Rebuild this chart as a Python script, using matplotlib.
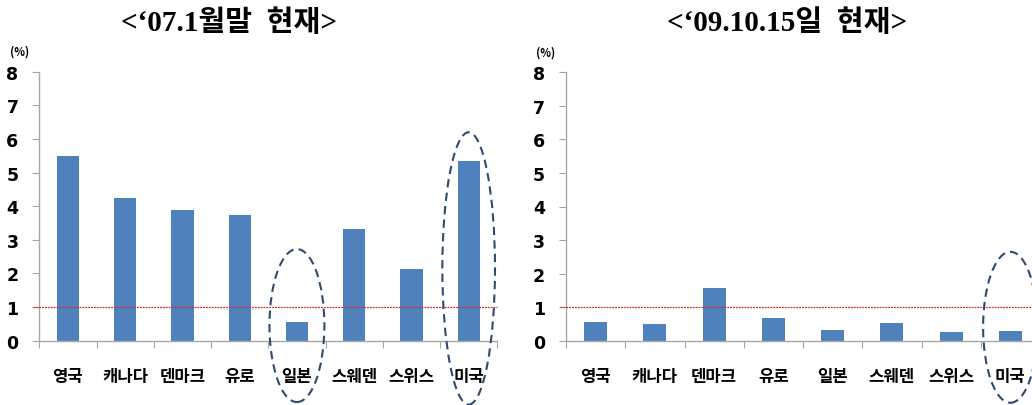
import matplotlib
matplotlib.use("Agg")
import matplotlib.pyplot as plt
from matplotlib.patches import Ellipse
import numpy as np

plt.rcParams['font.family'] = ['Noto Sans CJK KR', 'DejaVu Sans']

categories = ['영국', '캐나다', '덴마크', '유로', '일본', '스웨덴', '스위스', '미국']
values_2007 = [5.48, 4.25, 3.90, 3.74, 0.56, 3.33, 2.13, 5.35]
values_2009 = [0.56, 0.50, 1.56, 0.68, 0.33, 0.54, 0.26, 0.28]
titles = ["<\u201807.1월말  현재>", "<\u201809.10.15일  현재>"]
yticks = [0, 1, 2, 3, 4, 5, 6, 7, 8]
threshold = 1.0
# highlighted categories per panel
highlight_2007 = ['일본', '미국']
highlight_2009 = ['미국']

W, H = 1032, 406
fig = plt.figure(figsize=(W / 100, H / 100), dpi=100)

BAR = '#4F81BD'
AXC = '#A6A6A6'
ELC = '#2E4A72'
RED = '#D8282E'


def px_axes(x0, y_top, x1, y_bot):
    return fig.add_axes([x0 / W, 1 - y_bot / H, (x1 - x0) / W, (y_bot - y_top) / H])


def draw_panel(ax, vals, highlights, ell_specs):
    n = len(categories)
    x = np.arange(n)
    ax.bar(x, vals, width=0.39, color=BAR, zorder=2)
    ax.set_xlim(-0.5, n - 0.5)
    ax.set_ylim(0, 8)
    ax.set_yticks(yticks)
    ax.set_yticklabels([str(v) for v in yticks], fontsize=12.5, fontweight='bold',
                       family=['DejaVu Sans'])
    ax.set_xticks(np.arange(n + 1) - 0.5, minor=False)
    ax.set_xticklabels([])
    ax.set_xticks(x, minor=True)
    ax.set_xticklabels(categories, minor=True, fontsize=12, fontweight='bold')
    ax.tick_params(axis='x', which='major', length=5, color=AXC, direction='out')
    ax.tick_params(axis='x', which='minor', length=0, pad=19)
    ax.tick_params(axis='y', length=5, color=AXC, pad=10)
    for s in ['top', 'right']:
        ax.spines[s].set_visible(False)
    for s in ['left', 'bottom']:
        ax.spines[s].set_color(AXC)
        ax.spines[s].set_linewidth(1.0)
    ax.axhline(threshold, xmin=-0.013, xmax=1.0, color=RED, lw=0.9,
               ls=(0, (1.5, 0.8)), zorder=3, clip_on=False)
    for cat, (cy, h, w) in zip(highlights, ell_specs):
        i = categories.index(cat)
        e = Ellipse((i, cy), width=w, height=h, fill=False, edgecolor=ELC,
                    lw=1.5, ls=(0, (4, 2.5)), clip_on=False, zorder=4)
        ax.add_patch(e)


ax1 = px_axes(39.3, 72.7, 497.3, 341.7)
draw_panel(ax1, values_2007, highlight_2007, [(0.45, 4.55, 0.96), (2.15, 8.1, 0.92)])

ax2 = px_axes(566, 73.3, 1040, 341.7)
draw_panel(ax2, values_2009, highlight_2009, [(0.40, 4.5, 0.92)])

TFAM = ['Liberation Serif', 'Noto Sans CJK KR']
fig.text(229 / W, 1 - 23 / H, titles[0], ha='center', va='center', fontsize=21,
         fontweight='bold', family=TFAM)
fig.text(787 / W, 1 - 23 / H, titles[1], ha='center', va='center', fontsize=21,
         fontweight='bold', family=TFAM)
fig.text(20 / W, 1 - 52 / H, '(%)', ha='center', va='center', fontsize=8,
         fontweight='bold')
fig.text(546 / W, 1 - 53 / H, '(%)', ha='center', va='center', fontsize=8,
         fontweight='bold')

fig.savefig('out.png', dpi=100)
